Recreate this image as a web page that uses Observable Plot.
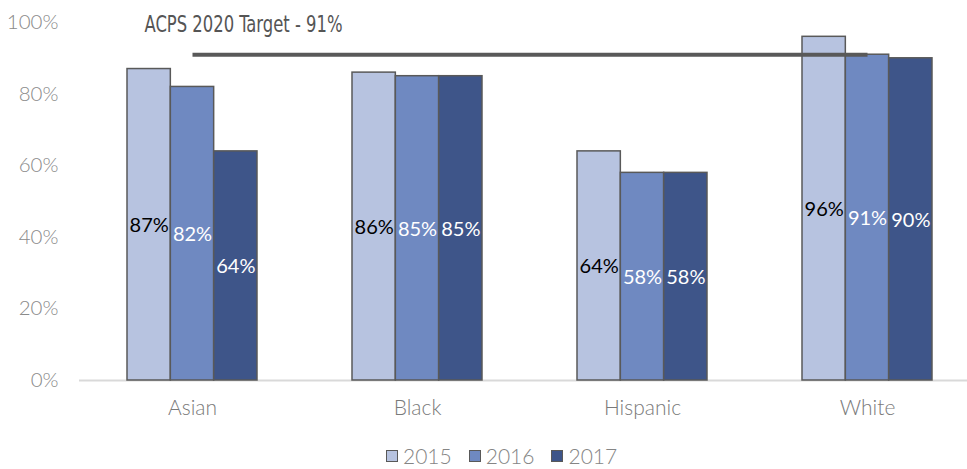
<!DOCTYPE html>
<html>
<head>
<meta charset="utf-8">
<script src="https://cdn.jsdelivr.net/npm/d3@7"></script>
<script src="https://cdn.jsdelivr.net/npm/@observablehq/plot@0.6"></script>
<style>
  html, body { margin: 0; padding: 0; background: #fff; }
  body { width: 967px; height: 469px; overflow: hidden; font-family: Lato, "Open Sans", sans-serif; }
  #legend { display: flex; gap: 17px; margin-left: 386px; margin-top: 2px; height: 31px; align-items: center; }
  .item { display: flex; align-items: center; font-size: 21px; color: #858585; font-weight: 300; }
  .sw { width: 10px; height: 10px; border: 1.5px solid #595959; margin-right: 5px; }
</style>
</head>
<body>
<div id="chart"></div>
<div id="legend"></div>
<script>
const categories = ["Asian", "Black", "Hispanic", "White"];
const years = ["2015", "2016", "2017"];
const v2015 = [87, 86, 64, 96];
const v2016 = [82, 85, 58, 91];
const v2017 = [64, 85, 58, 90];
const target = 91;
const targetLabel = "ACPS 2020 Target - 91%";
const yTicks = [0, 20, 40, 60, 80, 100];
const colors = ["#b7c3e0", "#6f89c1", "#3e5589"];
const labelColors = ["#000000", "#ffffff", "#ffffff"];

const series = [v2015, v2016, v2017];
const data = [];
years.forEach((yr, j) => categories.forEach((c, i) => data.push({cat: c, year: yr, j, value: series[j][i]})));

const step = 225.7, pInner = 0.424, pOuter = 0.2;
const r0 = 81;
const r1 = r0 + step * (categories.length - pInner + 2 * pOuter);
const bw = step * (1 - pInner);
const sub = bw / years.length;

const marks = [
  Plot.ruleY([0], {stroke: "#d9d9d9", strokeWidth: 2})
];
years.forEach((yr, j) => {
  marks.push(Plot.barY(data.filter(d => d.j === j), {
    x: "cat", y: "value", fill: colors[j], stroke: "#595959", strokeWidth: 1.5,
    insetLeft: sub * j, insetRight: sub * (years.length - 1 - j)
  }));
});
years.forEach((yr, j) => {
  marks.push(Plot.text(data.filter(d => d.j === j), {
    x: "cat", y: d => d.value / 2, text: d => d.value + "%",
    dx: (j - 1) * sub, dy: 1, fill: labelColors[j], fontSize: 20, fontFamily: "Lato, sans-serif"
  }));
});
marks.push(Plot.link([{a: categories[0], b: categories[categories.length - 1], v: target}], {
  x1: "a", x2: "b", y1: "v", y2: "v", stroke: "#595959", strokeWidth: 4
}));
marks.push(Plot.text([{c: categories[0], v: 100, t: targetLabel}], {
  x: "c", y: "v", text: "t", textAnchor: "start", dx: -48, dy: 2,
  fill: "#555555", fontSize: 23, fontFamily: "'Liberation Sans Narrow', 'DejaVu Sans Condensed', sans-serif"
}));
marks.push(Plot.axisY({ticks: yTicks, tickSize: 0, tickPadding: 21, tickFormat: d => d + "%",
  fontSize: 20.5, fill: "#8a8a8a", fontFamily: "Lato, sans-serif", fontWeight: 300}));
marks.push(Plot.axisX({tickSize: 0, tickPadding: 20, fontSize: 21, fill: "#7a7a7a",
  fontFamily: "Lato, sans-serif", fontWeight: 300, label: null}));

const chart = Plot.plot({
  width: 967, height: 438,
  marginLeft: 79, marginRight: 0, marginTop: 22, marginBottom: 58,
  x: {domain: categories, range: [r0, r1], paddingInner: pInner, paddingOuter: pOuter, axis: null},
  y: {domain: [0, 100], axis: null},
  style: {fontFamily: "Lato, sans-serif", background: "white", overflow: "visible"},
  marks
});
document.getElementById("chart").appendChild(chart);

// squeeze the condensed annotation to its width in the reference
chart.querySelectorAll("text").forEach(t => {
  if (t.textContent === targetLabel) {
    t.setAttribute("textLength", "198");
    t.setAttribute("lengthAdjust", "spacingAndGlyphs");
  }
});

const legend = document.getElementById("legend");
years.forEach((yr, j) => {
  const it = document.createElement("div");
  it.className = "item";
  const sw = document.createElement("span");
  sw.className = "sw";
  sw.style.background = colors[j];
  const tx = document.createElement("span");
  tx.textContent = yr;
  it.appendChild(sw); it.appendChild(tx);
  legend.appendChild(it);
});
</script>
</body>
</html>
